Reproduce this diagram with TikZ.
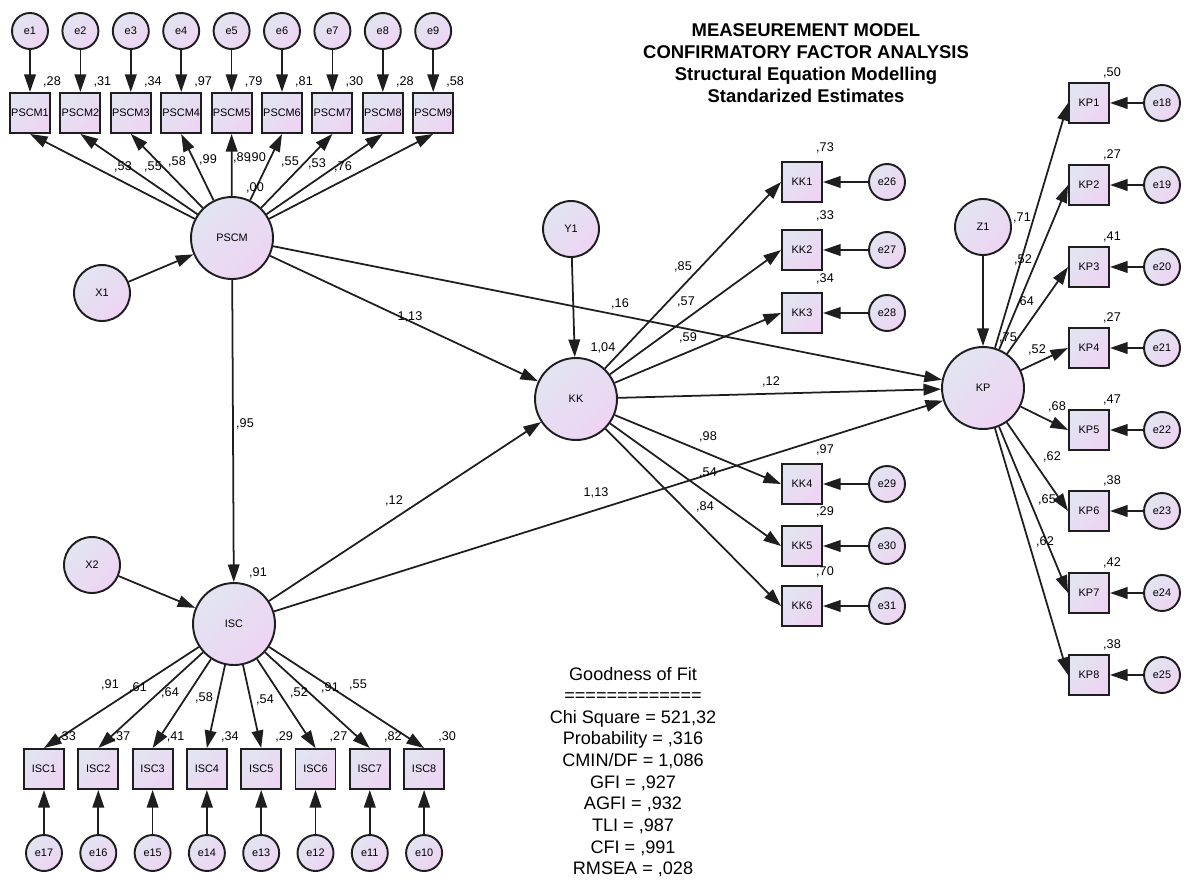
\documentclass[tikz,border=0pt]{standalone}
\usepackage{fontspec}
\setmainfont{Liberation Sans}
\usetikzlibrary{arrows.meta}
\definecolor{ca}{RGB}{226,228,241}
\definecolor{cb}{RGB}{238,212,243}
\definecolor{ln}{RGB}{30,30,30}
\begin{document}
\begin{tikzpicture}[x=0.02cm,y=-0.02cm,
  base/.style={draw=ln,line width=1.1pt,top color=ca,bottom color=cb,shading angle=45,inner sep=0pt,font=\fontsize{6.2}{7}\selectfont},
  lat/.style={base,circle,minimum size=1.64cm},
  ext/.style={base,circle,minimum size=1.12cm},
  err/.style={base,circle,minimum size=0.72cm},
  obs/.style={base,rectangle,minimum size=0.8cm},
  lbl/.style={font=\fontsize{7.2}{8}\selectfont,inner sep=0pt},
  arr/.style={draw=ln,line width=1pt,-{Triangle[length=10pt,width=6.6pt]}}]
\useasboundingbox (0,0) rectangle (1189,882);

% title
\node[align=center,font=\bfseries\fontsize{10.5}{12.6}\selectfont] (title) at (806,63)
 {MEASEUREMENT MODEL\\CONFIRMATORY FACTOR ANALYSIS\\Structural Equation Modelling\\Standarized Estimates};

% latent variables
\node[lat] (PSCM) at (232,238) {PSCM};
\node[ext] (X1) at (102,293) {X1};
\node[lat] (ISC) at (234,624) {ISC};
\node[ext] (X2) at (92,565) {X2};
\node[lat] (KK) at (576,399) {KK};
\node[ext] (Y1) at (571,229) {Y1};
\node[lat] (KP) at (983,388) {KP};
\node[ext] (Z1) at (983,227) {Z1};

% structural paths
\draw[arr] (X1) -- (PSCM);
\draw[arr] (X2) -- (ISC);
\draw[arr] (Y1) -- (KK);
\draw[arr] (Z1) -- (KP);
\draw[arr] (PSCM) -- (ISC);
\draw[arr] (PSCM) -- (KK);
\draw[arr] (PSCM) -- (KP);
\draw[arr] (ISC) -- (KK);
\draw[arr] (ISC) -- (KP);
\draw[arr] (KK) -- (KP);

% PSCM indicators
\foreach \i in {1,...,9} {
  \pgfmathsetmacro\xx{30+50.4*(\i-1)}
  \node[err] (e\i) at (\xx,31) {e\i};
  \node[obs] (PSCM\i) at (\xx,113) {PSCM\i};
  \draw[arr] (e\i) -- (PSCM\i);
  \draw[arr] (PSCM) -- (PSCM\i.south);
}
\foreach \i/\v in {1/28,2/31,3/34,4/97,5/79,6/81,7/30,8/28,9/58} {
  \pgfmathsetmacro\xx{52+50.4*(\i-1)}
  \node[lbl] (rp\i) at (\xx,82) {,\v};
}
\foreach \i/\a/\b/\v in {1/123/167/53,2/153/167/55,3/177/162/58,4/208/160/99,5/242/158/89,6/257/158/90,7/290/162/55,8/317/164/53,9/343/167/76} {
  \node[lbl] (lp\i) at (\a,\b) {,\v};
}
\node[lbl] (rPSCM) at (255,188) {,00};

% ISC indicators
\foreach \i in {1,...,8} {
  \pgfmathsetmacro\xx{44+54.3*(\i-1)}
  \pgfmathtruncatemacro\en{18-\i}
  \node[obs] (ISC\i) at (\xx,769) {ISC\i};
  \node[err] (e\en) at (\xx,853) {e\en};
  \draw[arr] (e\en) -- (ISC\i);
  \draw[arr] (ISC) -- (ISC\i.north);
}
\foreach \i/\v in {1/33,2/37,3/41,4/34,5/29,6/27,7/82,8/30} {
  \pgfmathsetmacro\xx{67+54.3*(\i-1)}
  \node[lbl] (ri\i) at (\xx,737) {,\v};
}
\foreach \i/\a/\b/\v in {1/110/685/91,2/138/688/61,3/170/693/64,4/204/698/58,5/265/700/54,6/299/693/52,7/330/688/91,8/358/685/55} {
  \node[lbl] (li\i) at (\a,\b) {,\v};
}

% KK indicators
\foreach \i/\yy/\v in {1/182/73,2/250/33,3/313/34,4/484/97,5/546/29,6/606/70} {
  \pgfmathtruncatemacro\en{25+\i}
  \node[obs] (KK\i) at (802,\yy) {KK\i};
  \node[err] (e\en) at (887,\yy) {e\en};
  \draw[arr] (e\en) -- (KK\i);
  \draw[arr] (KK) -- (KK\i.west);
  \node[lbl] (rk\i) at (825,\yy-34) {,\v};
}
\foreach \i/\a/\b/\v in {1/683/267/85,2/686/302/57,3/688/338/59,4/708/437/98,5/708/473/54,6/705/507/84} {
  \node[lbl] (lk\i) at (\a,\b) {,\v};
}

% KP indicators
\foreach \i/\yy/\v in {1/103/50,2/185/27,3/267/41,4/348/27,5/430/47,6/511/38,7/593/42,8/675/38} {
  \pgfmathtruncatemacro\en{17+\i}
  \node[obs] (KP\i) at (1089,\yy) {KP\i};
  \node[err] (e\en) at (1162,\yy) {e\en};
  \draw[arr] (e\en) -- (KP\i);
  \draw[arr] (KP) -- (KP\i.west);
  \node[lbl] (rq\i) at (1112,\yy-30) {,\v};
}
\foreach \i/\a/\b/\v in {1/1022/218/71,2/1023/260/52,3/1025/302/64,4/1008/338/75,5/1037/350/52,6/1057/407/68,7/1052/457/62,8/1047/500/65,9/1045/542/62} {
  \node[lbl] (lq\i) at (\a,\b) {,\v};
}

% structural labels
\node[lbl] (s1) at (410,317) {1,13};
\node[lbl] (s2) at (620,304) {,16};
\node[lbl] (s3) at (771,382) {,12};
\node[lbl] (s4) at (394,501) {,12};
\node[lbl] (s5) at (596,493) {1,13};
\node[lbl] (s6) at (245,424) {,95};
\node[lbl] (s7) at (258,573) {,91};
\node[lbl] (s8) at (603,348) {1,04};

% goodness of fit
\node[align=center,font=\fontsize{10.3}{12.3}\selectfont] (gof) at (633,772)
 {Goodness of Fit\\=============\\Chi Square = 521,32\\Probability = ,316\\CMIN/DF = 1,086\\GFI = ,927\\AGFI = ,932\\TLI = ,987\\CFI = ,991\\RMSEA = ,028};
\end{tikzpicture}
\end{document}
